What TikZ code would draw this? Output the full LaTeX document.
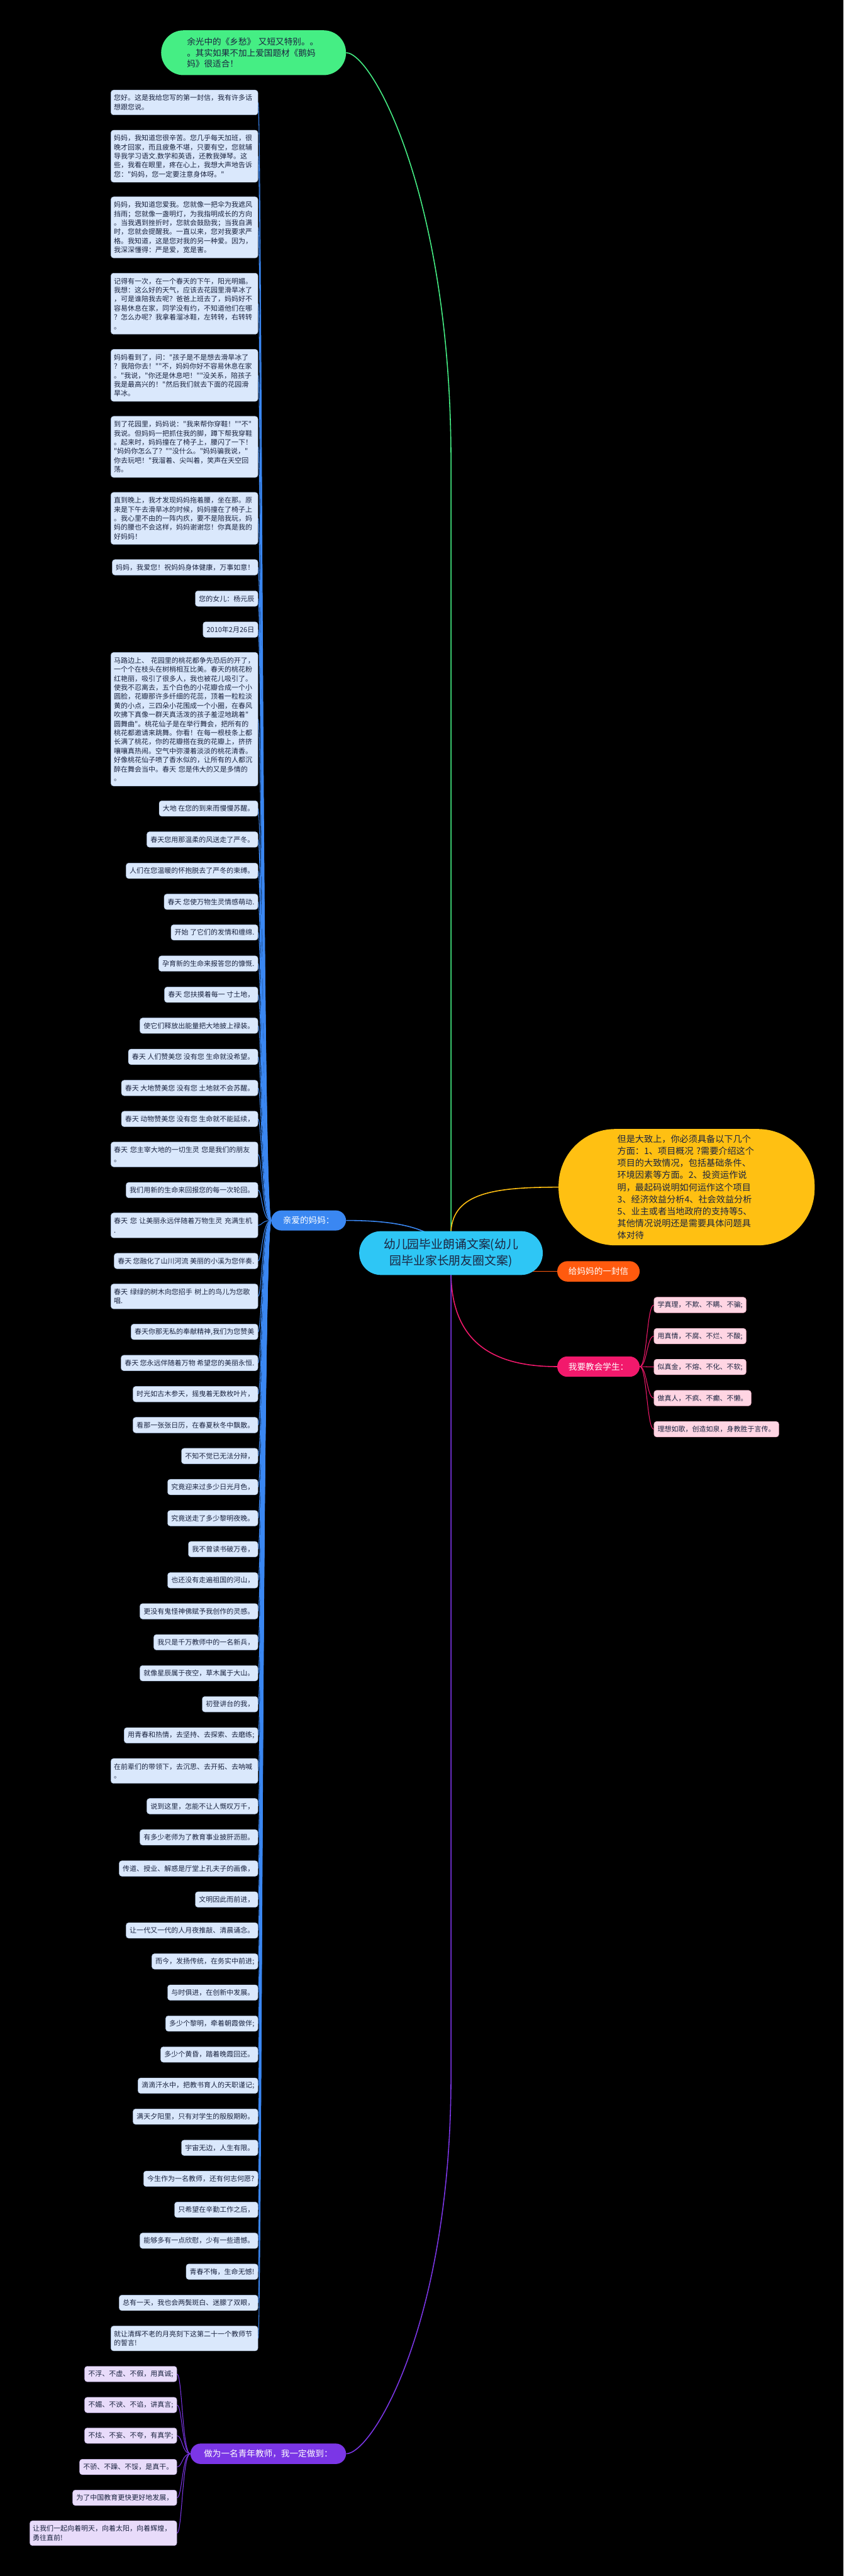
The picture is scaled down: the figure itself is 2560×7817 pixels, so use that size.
\documentclass[tikz,border=0pt]{standalone}
\usepackage{fontspec}
\newfontfamily\cjk{Noto Sans CJK SC}
\definecolor{cyanC}{HTML}{2EC6F5}
\definecolor{greenC}{HTML}{45EE84}
\definecolor{yellowC}{HTML}{FFC012}
\definecolor{orangeC}{HTML}{FF5A0E}
\definecolor{pinkC}{HTML}{F2196C}
\definecolor{blueC}{HTML}{3A87F2}
\definecolor{purpleC}{HTML}{7B36E6}
\definecolor{leafB}{HTML}{DAE8FC}
\definecolor{leafBedge}{HTML}{AFC6EA}
\definecolor{leafP}{HTML}{E8DBFA}
\definecolor{leafPedge}{HTML}{C8B4EC}
\definecolor{leafK}{HTML}{FFD5E3}
\definecolor{leafKedge}{HTML}{F0A8C0}
\definecolor{tdark}{HTML}{1B2440}
\pgfdeclarelayer{back}
\pgfdeclarelayer{lines}
\pgfsetlayers{back,lines,main}
\tikzset{
  leaf/.style={draw=leafBedge, line width=0.4pt, fill=leafB, rounded corners=4pt,
    inner xsep=5.5pt, inner ysep=0pt, minimum height=23.5pt, text=tdark,
    font=\cjk\fontsize{10.5pt}{13.75pt}\selectfont, anchor=east},
  ml/.style={leaf, text width=214pt, inner xsep=4.5pt, align=left,
    minimum height={10.25pt+13.75pt*#1}},
  pleaf/.style={leaf, fill=leafP, draw=leafPedge},
  kleaf/.style={leaf, fill=leafK, draw=leafKedge, anchor=west},
  pill/.style={rounded corners=15.5pt, minimum width=125pt, minimum height=31pt,
    inner sep=0pt, text=white, font=\cjk\fontsize{13pt}{16pt}\selectfont},
  conn/.style={line width=1.5pt},
  bconn/.style={line width=1pt, draw=blueC},
  pconn/.style={line width=1pt, draw=purpleC},
  kconn/.style={line width=1pt, draw=pinkC}
}
\begin{document}
\begin{tikzpicture}[x=0.5pt,y=-0.5pt]
\begin{pgfonlayer}{back}
\fill[black] (0,0) rectangle (2560,7817);
\end{pgfonlayer}
\useasboundingbox (0,0) rectangle (2560,7817);

% main nodes
\node[fill=cyanC, rounded corners=33pt, minimum width=278.5pt, minimum height=66.5pt,
  align=center, text=tdark, font=\cjk\fontsize{18pt}{24.5pt}\selectfont]
  (C) at (1368.5,3802.5) {幼儿园毕业朗诵文案(幼儿\\园毕业家长朋友圈文案)};
\node[fill=greenC, rounded corners=34pt, minimum width=280.5pt, minimum height=68pt,
  text width=202pt, align=left, text=tdark, font=\cjk\fontsize{13pt}{16.5pt}\selectfont]
  (G) at (769.5,160) {余光中的《乡愁》~又短又特别。。\\。其实如果不加上爱国题材《鹅妈\\妈》很适合！};
\node[fill=yellowC, rounded corners=86pt, minimum width=388.5pt, minimum height=176.5pt,
  text width=210pt, align=left, text=tdark, font=\cjk\fontsize{13.5pt}{18.25pt}\selectfont]
  (Y) at (2083.5,3602.5) {但是大致上，你必须具备以下几个\\方面：1、项目概况~?需要介绍这个\\项目的大致情况，包括基础条件、\\环境因素等方面。2、投资运作说\\明，最起码说明如何运作这个项目\\3、经济效益分析4、社会效益分析\\5、业主或者当地政府的支持等5、\\其他情况说明还是需要具体问题具\\体对待};
\node[pill, fill=orangeC] (O) at (1816,3858) {给妈妈的一封信};
\node[pill, fill=pinkC] (K) at (1816,4147) {我要教会学生：};
\node[pill, fill=blueC, minimum width=113.5pt, minimum height=30.5pt] (B) at (936.5,3703.5) {亲爱的妈妈：};
\node[pill, fill=purpleC, minimum width=236pt] (P) at (814,7446) {做为一名青年教师，我一定做到：};

% blue leaves
\node[ml=2] (L1) at (783,311) {您好。这是我给您写的第一封信，我有许多话\\想跟您说。};
\node[ml=5] (L2) at (783,474) {妈妈，我知道您很辛苦。您几乎每天加班，很\\晚才回家，而且疲惫不堪，只要有空，您就辅\\导我学习语文.数学和英语，还教我弹琴。这\\些，我看在眼里，疼在心上，我想大声地告诉\\您："妈妈，您一定要注意身体呀。"};
\node[ml=6] (L3) at (783,690) {妈妈，我知道您爱我。您就像一把伞为我遮风\\挡雨；您就像一盏明灯，为我指明成长的方向\\。当我遇到挫折时，您就会鼓励我；当我自满\\时，您就会提醒我。一直以来，您对我要求严\\格。我知道，这是您对我的另一种爱。因为，\\我深深懂得：严是爱，宽是害。};
\node[ml=6] (L4) at (783,921.5) {记得有一次，在一个春天的下午，阳光明媚。\\我想：这么好的天气，应该去花园里滑旱冰了\\，可是谁陪我去呢？爸爸上班去了，妈妈好不\\容易休息在家，同学没有约，不知道他们在哪\\？怎么办呢？我拿着溜冰鞋，左转转，右转转\\。};
\node[ml=5] (L5) at (783,1139) {妈妈看到了，问："孩子是不是想去滑旱冰了\\？我陪你去！""不，妈妈你好不容易休息在家\\。"我说，"你还是休息吧！""没关系，陪孩子\\我是最高兴的！"然后我们就去下面的花园滑\\旱冰。};
\node[ml=6] (L6) at (783,1356) {到了花园里，妈妈说："我来帮你穿鞋！""不"\\我说。但妈妈一把抓住我的脚，蹲下帮我穿鞋\\。起来时，妈妈撞在了椅子上，腰闪了一下！\\"妈妈你怎么了？""没什么。"妈妈骗我说，"\\你去玩吧！"我溜着、尖叫着，笑声在天空回\\荡。};
\node[ml=5] (L7) at (783,1573) {直到晚上，我才发现妈妈拖着腰，坐在那。原\\来是下午去滑旱冰的时候，妈妈撞在了椅子上\\。我心里不由的一阵内疚，要不是陪我玩，妈\\妈的腰也不会这样，妈妈谢谢您！你真是我的\\好妈妈！};
\node[leaf] (L8) at (783,1721.5) {妈妈，我爱您！祝妈妈身体健康，万事如意！};
\node[leaf] (L9) at (783,1816.5) {您的女儿：杨元辰};
\node[leaf] (L10) at (783,1910.5) {2010年2月26日};
\node[ml=14] (L11) at (783,2182.5) {马路边上、~花园里的桃花都争先恐后的开了，\\一个个在枝头在树梢相互比美。春天的桃花粉\\红艳丽，吸引了很多人，我也被花儿吸引了。\\使我不忍离去，五个白色的小花瓣合成一个小\\圆脸，花瓣那许多纤细的花蕊，顶着一粒粒淡\\黄的小点，三四朵小花围成一个小圈，在春风\\吹拂下真像一群天真活泼的孩子羞涩地跳着"\\圆舞曲"。桃花仙子是在举行舞会，把所有的\\桃花都邀请来跳舞。你看！在每一根枝条上都\\长满了桃花，你的花瓣搭在我的花瓣上，挤挤\\嚷嚷真热闹。空气中弥漫着淡淡的桃花清香。\\好像桃花仙子喷了香水似的，让所有的人都沉\\醉在舞会当中。春天~您是伟大的又是多情的\\。};
\node[leaf] (L12) at (783,2453.5) {大地 在您的到来而慢慢苏醒。};
\node[leaf] (L13) at (783,2547.5) {春天您用那温柔的风送走了严冬。};
\node[leaf] (L14) at (783,2642.5) {人们在您温暖的怀抱脱去了严冬的束缚。};
\node[leaf] (L15) at (783,2736.5) {春天 您使万物生灵情感萌动.};
\node[leaf] (L16) at (783,2829.5) {开始 了它们的发情和缠绵.};
\node[leaf] (L17) at (783,2924) {孕育新的生命来报答您的慷慨.};
\node[leaf] (L18) at (783,3018.5) {春天 您扶摸着每一 寸土地，};
\node[leaf] (L19) at (783,3112.5) {使它们释放出能量把大地披上禄装。};
\node[leaf] (L20) at (783,3207) {春天 人们赞美您 没有您 生命就没希望。};
\node[leaf] (L21) at (783,3301.5) {春天 大地赞美您 没有您 土地就不会苏醒。};
\node[leaf] (L22) at (783,3395.5) {春天 动物赞美您 没有您 生命就不能延续，};
\node[ml=2] (L23) at (783,3503) {春天~您主宰大地的一切生灵~您是我们的朋友\\。};
\node[leaf] (L24) at (783,3611.5) {我们用新的生命来回报您的每一次轮回。};
\node[ml=2] (L25) at (783,3718.5) {春天~您~让美丽永远伴随着万物生灵~充满生机\\.};
\node[leaf] (L26) at (783,3826.5) {春天 您融化了山川河流 美丽的小溪为您伴奏.};
\node[ml=2] (L27) at (783,3934) {春天~绿绿的树木向您招手~树上的鸟儿为您歌\\唱.};
\node[leaf] (L28) at (783,4041.5) {春天你那无私的奉献精神,我们为您赞美};
\node[leaf] (L29) at (783,4136) {春天 您永远伴随着万物 希望您的美丽永恒.};
\node[leaf] (L30) at (783,4230.5) {时光如古木参天，摇曳着无数枚叶片，};
\node[leaf] (L31) at (783,4324.5) {看那一张张日历，在春夏秋冬中飘散。};
\node[leaf] (L32) at (783,4418.5) {不知不觉已无法分辩，};
\node[leaf] (L33) at (783,4512.5) {究竟迎来过多少日光月色，};
\node[leaf] (L34) at (783,4607) {究竟送走了多少黎明夜晚。};
\node[leaf] (L35) at (783,4701) {我不曾读书破万卷，};
\node[leaf] (L36) at (783,4795.5) {也还没有走遍祖国的河山，};
\node[leaf] (L37) at (783,4889.5) {更没有鬼怪神佛赋予我创作的灵感。};
\node[leaf] (L38) at (783,4983.5) {我只是千万教师中的一名新兵，};
\node[leaf] (L39) at (783,5077.5) {就像星辰属于夜空，草木属于大山。};
\node[leaf] (L40) at (783,5171.5) {初登讲台的我，};
\node[leaf] (L41) at (783,5266) {用青春和热情，去坚持、去探索、去磨练;};
\node[ml=2] (L42) at (783,5374) {在前辈们的带领下，去沉思、去开拓、去呐喊\\。};
\node[leaf] (L43) at (783,5481) {说到这里，怎能不让人慨叹万千，};
\node[leaf] (L44) at (783,5575.5) {有多少老师为了教育事业披肝沥胆。};
\node[leaf] (L45) at (783,5670) {传道、授业、解惑是厅堂上孔夫子的画像，};
\node[leaf] (L46) at (783,5764) {文明因此而前进，};
\node[leaf] (L47) at (783,5858) {让一代又一代的人月夜推敲、清晨诵念。};
\node[leaf] (L48) at (783,5952) {而今，发扬传统，在务实中前进;};
\node[leaf] (L49) at (783,6046.5) {与时俱进，在创新中发展。};
\node[leaf] (L50) at (783,6140.5) {多少个黎明，牵着朝霞做伴;};
\node[leaf] (L51) at (783,6234.5) {多少个黄昏，踏着晚霞回还。};
\node[leaf] (L52) at (783,6329) {滴滴汗水中，把教书育人的天职谨记;};
\node[leaf] (L53) at (783,6423) {满天夕阳里，只有对学生的殷殷期盼。};
\node[leaf] (L54) at (783,6517.5) {宇宙无边，人生有限。};
\node[leaf] (L55) at (783,6611.5) {今生作为一名教师，还有何志何愿?};
\node[leaf] (L56) at (783,6705.5) {只希望在辛勤工作之后，};
\node[leaf] (L57) at (783,6799.5) {能够多有一点欣慰，少有一些遗憾。};
\node[leaf] (L58) at (783,6893.5) {青春不悔，生命无憾!};
\node[leaf] (L59) at (783,6988) {总有一天，我也会两鬓斑白、迷朦了双眼，};
\node[ml=2] (L60) at (783,7096) {就让清辉不老的月亮刻下这第二十一个教师节\\的誓言!};

% purple leaves
\node[pleaf] (P1) at (537,7204) {不浮、不虚、不假，用真诚;};
\node[pleaf] (P2) at (537,7298) {不媚、不谀、不谄，讲真言;};
\node[pleaf] (P3) at (537,7391) {不炫、不妄、不夸，有真学;};
\node[pleaf] (P4) at (537,7486) {不骄、不躁、不馁，是真干。};
\node[pleaf] (P5) at (537,7579.5) {为了中国教育更快更好地发展，};
\node[ml=2, fill=leafP, draw=leafPedge] (P6) at (537,7687) {让我们一起向着明天，向着太阳，向着辉煌，\\勇往直前!};

% pink leaves
\node[kleaf] (K1) at (1984,3960) {学真理，不欺、不瞒、不骗;};
\node[kleaf] (K2) at (1984,4054.5) {用真情，不腐、不烂、不酸;};
\node[kleaf] (K3) at (1984,4148) {似真金，不熔、不化、不软;};
\node[kleaf] (K4) at (1984,4242.5) {做真人，不疯、不癫、不懒。};
\node[kleaf] (K5) at (1984,4337) {理想如歌，创造如泉，身教胜于言传。};

\coordinate (bt) at (795,0);
\coordinate (pt) at (553,0);
\coordinate (kt) at (1963,0);

\begin{pgfonlayer}{lines}
\draw[conn, greenC] (C.center) -- (C.center |- 0,1400) .. controls (1368.5,600) and (1130,160) .. (G.east);
\draw[conn, yellowC] (C.north) .. controls (1376,3620) and (1500,3602.5) .. (Y.west);
\draw[conn, orangeC] (C.center |- O.west) -- (O.west);
\draw[conn, pinkC] (C.south) .. controls (1373,4060) and (1480,4147) .. (K.west);
\draw[conn, blueC] (B.east) .. controls (1220,3703.5) and (1320,3730) .. (C.center);
\draw[conn, purpleC] (C.center) -- (C.center |- 0,6300) .. controls (1368.5,7050) and (1130,7446) .. (P.east);
\foreach \n in {1,...,60}
  \draw[bconn] (B.west) .. controls (bt |- B.west) and (bt |- L\n.east) .. (L\n.east);
\foreach \n in {1,...,6}
  \draw[pconn] (P.west) .. controls (pt |- P.west) and (pt |- P\n.east) .. (P\n.east);
\foreach \n in {1,...,5}
  \draw[kconn] (K.east) .. controls (kt |- K.east) and (kt |- K\n.west) .. (K\n.west);
\end{pgfonlayer}
\end{tikzpicture}
\end{document}
